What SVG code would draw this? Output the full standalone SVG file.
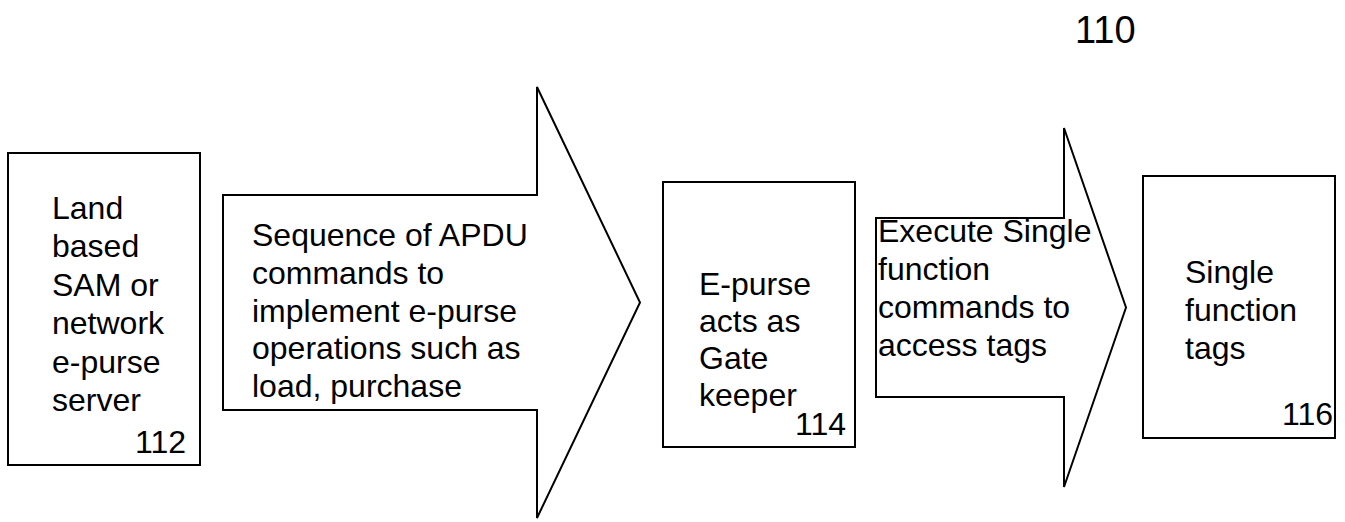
<svg xmlns="http://www.w3.org/2000/svg" width="1345" height="522" viewBox="0 0 1345 522">
  <style>
    .shape { fill: #fff; stroke: #000; stroke-width: 2; }
    .label { font-family: "Liberation Sans", Arial, sans-serif; font-size: 32px; fill: #000; }
    .num { font-family: "Liberation Sans", Arial, sans-serif; font-size: 32px; fill: #000; text-anchor: end; }
    .fig { font-family: "Liberation Sans", Arial, sans-serif; font-size: 38px; fill: #000; }
  </style>
  <rect width="1345" height="522" fill="#fff"/>

  <text class="fig" x="1075" y="43">110</text>

  <g id="node-112">
    <rect class="shape" x="8" y="153" width="192" height="312"/>
    <text class="label" x="52" y="219">
      <tspan x="52" dy="0">Land</tspan>
      <tspan x="52" dy="38.4">based</tspan>
      <tspan x="52" dy="38.4">SAM or</tspan>
      <tspan x="52" dy="38.4">network</tspan>
      <tspan x="52" dy="38.4">e-purse</tspan>
      <tspan x="52" dy="38.4">server</tspan>
    </text>
    <text class="num" x="186" y="453">112</text>
  </g>

  <g id="connectors">
    <g id="arrow-apdu">
      <polygon class="shape" points="223,195 537,195 537,87 640,302.5 537,518 537,410 223,410"/>
      <text class="label" x="252" y="246">
        <tspan x="252" dy="0">Sequence of APDU</tspan>
        <tspan x="252" dy="37.8">commands to</tspan>
        <tspan x="252" dy="37.8">implement e-purse</tspan>
        <tspan x="252" dy="37.8">operations such as</tspan>
        <tspan x="252" dy="37.8">load, purchase</tspan>
      </text>
    </g>
    <g id="arrow-single">
      <polygon class="shape" points="876,218 1064,218 1064,128 1126,307.5 1064,487 1064,397 876,397"/>
      <text class="label" x="878" y="242">
        <tspan x="878" dy="0">Execute Single</tspan>
        <tspan x="878" dy="38">function</tspan>
        <tspan x="878" dy="38">commands to</tspan>
        <tspan x="878" dy="38">access tags</tspan>
      </text>
    </g>
  </g>

  <g id="node-114">
    <rect class="shape" x="663" y="182" width="192" height="265"/>
    <text class="label" x="699" y="295">
      <tspan x="699" dy="0">E-purse</tspan>
      <tspan x="699" dy="37">acts as</tspan>
      <tspan x="699" dy="37">Gate</tspan>
      <tspan x="699" dy="37">keeper</tspan>
    </text>
    <text class="num" x="846" y="435">114</text>
  </g>

  <g id="node-116">
    <rect class="shape" x="1143" y="176" width="192" height="262"/>
    <text class="label" x="1185" y="283">
      <tspan x="1185" dy="0">Single</tspan>
      <tspan x="1185" dy="38">function</tspan>
      <tspan x="1185" dy="38">tags</tspan>
    </text>
    <text class="num" x="1333" y="425">116</text>
  </g>
</svg>
